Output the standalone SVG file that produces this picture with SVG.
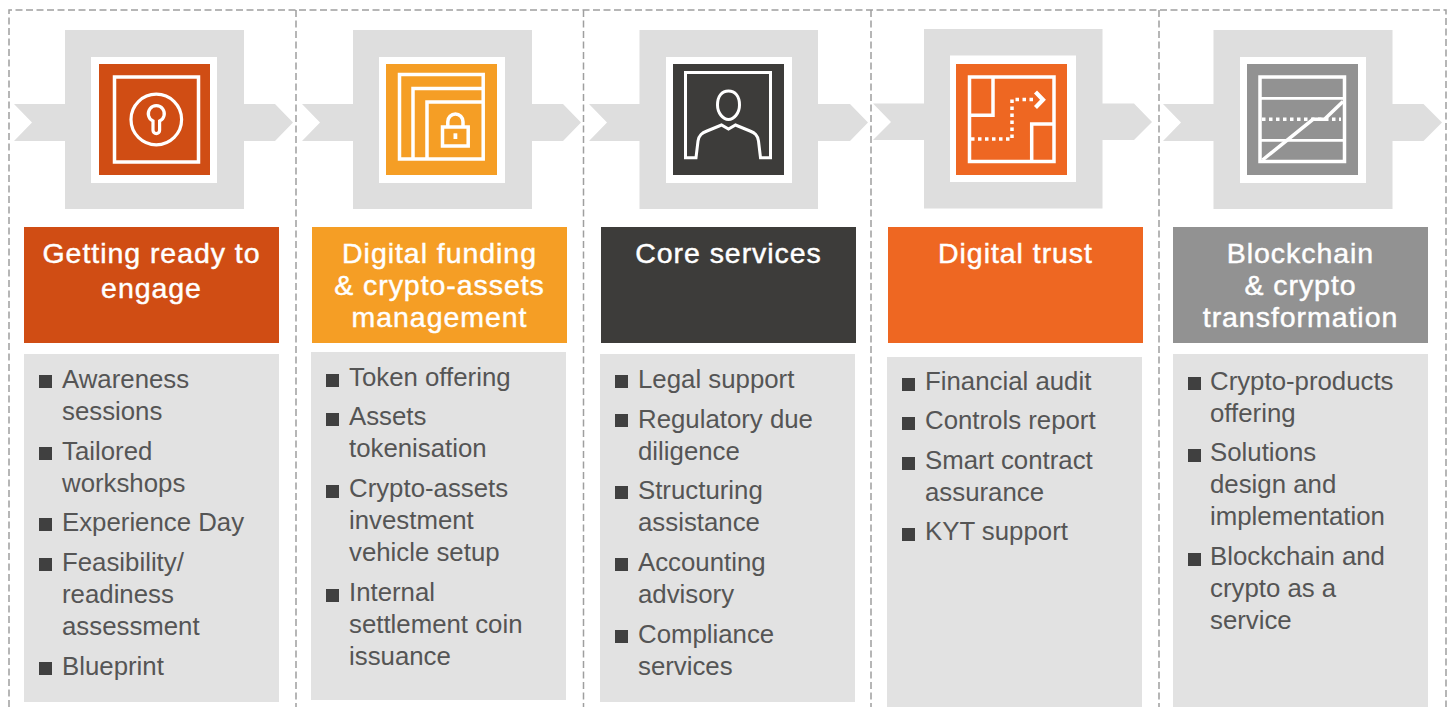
<svg xmlns="http://www.w3.org/2000/svg" width="1453" height="707" viewBox="0 0 1453 707">
<style>
.frame{fill:none;stroke:#9f9f9f;stroke-width:1.5;stroke-dasharray:7 3.500}
.cross{fill:#dedede}
.hole{fill:#fff}
.ic{fill:none;stroke:#fff;stroke-width:3.5}
.dot{fill:none;stroke:#fff;stroke-width:3.5;stroke-dasharray:3.5 3.5}
.head{font-family:"Liberation Sans",Arial,sans-serif;font-size:28.500px;letter-spacing:.95px;fill:#fff;stroke:#fff;stroke-width:.45px;text-anchor:middle}
.item{font-family:"Liberation Sans",Arial,sans-serif;font-size:25.800px;fill:#555}
.body{fill:#e2e2e2}
.bul{fill:#404040}
</style>
<rect width="1453" height="707" fill="#fff"/>
<g id="frames">
<path class="frame" d="M9 707V10H1446V707M296 10V707M583.500 10V707M871 10V707M1159 10V707"/>
</g>
<g id="connectors"/>
<g id="node-1">
<path class="cross" d="M65 30H244V104H275L293 122.500L275 141H244V209H65V141H14L32 122.500L14 104H65Z"/>
<rect class="hole" x="91" y="57" width="126" height="126"/>
<rect x="99" y="64" width="111" height="111" fill="#d04d14"/>
<rect class="ic" x="114.500" y="77" width="84" height="85"/>
<circle class="ic" cx="156.300" cy="119.500" r="25.300" style="stroke-width:3.2"/>
<path class="ic" style="stroke-width:3.2" d="M153 121A8 8 0 1 1 159.600 121V130.300A3.300 3.300 0 0 1 153 130.300Z"/>
<rect x="24" y="227" width="255" height="116" fill="#d04d14"/>
<text class="head"><tspan x="151.500" y="262.500">Getting ready to</tspan><tspan x="151.500" y="298">engage</tspan></text>
<rect class="body" x="24" y="354" width="255" height="348"/>
<rect class="bul" x="39" y="375" width="13" height="13"/>
<rect class="bul" x="39" y="447" width="13" height="13"/>
<rect class="bul" x="39" y="518" width="13" height="13"/>
<rect class="bul" x="39" y="558" width="13" height="13"/>
<rect class="bul" x="39" y="662" width="13" height="13"/>
<text class="item"><tspan x="62" y="388">Awareness</tspan><tspan x="62" y="420">sessions</tspan><tspan x="62" y="460">Tailored</tspan><tspan x="62" y="492">workshops</tspan><tspan x="62" y="531">Experience Day</tspan><tspan x="62" y="571">Feasibility/</tspan><tspan x="62" y="603">readiness</tspan><tspan x="62" y="635">assessment</tspan><tspan x="62" y="675">Blueprint</tspan></text>
</g>
<g id="node-2">
<path class="cross" d="M353 30H532V104H563L581 122.500L563 141H532V209H353V141H302L320 122.500L302 104H353Z"/>
<rect class="hole" x="379" y="57" width="126" height="126"/>
<rect x="386" y="64" width="111" height="111" fill="#f59e25"/>
<path class="ic" d="M399.500 74.500H483.200V159H399.500ZM483.200 88.500H413V159M483.200 102H427V159"/>
<path class="ic" d="M442.500 127H468.200V146H442.500ZM447.800 127V121.700A7.600 7.600 0 0 1 463 121.700V127"/>
<rect x="453.500" y="133.300" width="3.800" height="5.700" fill="#fff"/>
<rect x="312" y="227" width="255" height="116" fill="#f59e25"/>
<text class="head"><tspan x="439.500" y="262.500">Digital funding</tspan><tspan x="439.500" y="294.500">&amp; crypto-assets</tspan><tspan x="439.500" y="326.500">management</tspan></text>
<rect class="body" x="311" y="352" width="255" height="348"/>
<rect class="bul" x="326" y="374" width="13" height="13"/>
<rect class="bul" x="326" y="413" width="13" height="13"/>
<rect class="bul" x="326" y="485" width="13" height="13"/>
<rect class="bul" x="326" y="589" width="13" height="13"/>
<text class="item"><tspan x="349" y="386">Token offering</tspan><tspan x="349" y="425">Assets</tspan><tspan x="349" y="457">tokenisation</tspan><tspan x="349" y="497">Crypto-assets</tspan><tspan x="349" y="529">investment</tspan><tspan x="349" y="561">vehicle setup</tspan><tspan x="349" y="601">Internal</tspan><tspan x="349" y="633">settlement coin</tspan><tspan x="349" y="665">issuance</tspan></text>
</g>
<g id="node-3">
<path class="cross" d="M639.500 30H818V104H850L868 122.500L850 141H818V209H639.500V141H589L607 122.500L589 104H639.500Z"/>
<rect class="hole" x="666" y="57" width="126" height="126"/>
<rect x="673" y="64" width="111" height="111" fill="#3d3c3a"/>
<path class="ic" style="stroke-width:3" d="M696 157.800H685.500V72.500H770.500V157.800H760.500L758.500 141C757.500 135 755 133 750 131L735.500 125L728.500 129L721.500 125L707 131C702 133 699 135 698 141Z"/>
<path class="ic" style="stroke-width:3" d="M728.500 91C722 91 717.500 96 717.500 105C717.500 113 723 119.500 728.500 119.500C734 119.500 739.500 113 739.500 105C739.500 96 735 91 728.500 91Z"/>
<rect x="601" y="227" width="255" height="116" fill="#3d3c3a"/>
<text class="head"><tspan x="728.500" y="262.500">Core services</tspan></text>
<rect class="body" x="600" y="354" width="255" height="348"/>
<rect class="bul" x="615" y="375" width="13" height="13"/>
<rect class="bul" x="615" y="414" width="13" height="13"/>
<rect class="bul" x="615" y="486" width="13" height="13"/>
<rect class="bul" x="615" y="558" width="13" height="13"/>
<rect class="bul" x="615" y="630" width="13" height="13"/>
<text class="item"><tspan x="638" y="388">Legal support</tspan><tspan x="638" y="428">Regulatory due</tspan><tspan x="638" y="460">diligence</tspan><tspan x="638" y="499">Structuring</tspan><tspan x="638" y="531">assistance</tspan><tspan x="638" y="571">Accounting</tspan><tspan x="638" y="603">advisory</tspan><tspan x="638" y="643">Compliance</tspan><tspan x="638" y="675">services</tspan></text>
</g>
<g id="node-4">
<path class="cross" d="M924 29H1102.500V103.500H1134L1152 122L1134 140H1102.500V208.500H924V140H873L891 122L873 103.500H924Z"/>
<rect class="hole" x="950" y="55.500" width="126" height="126.500"/>
<rect x="956" y="64" width="111" height="111" fill="#ee6722"/>
<path class="ic" d="M969.500 77H1054V161.500H969.500ZM969.500 115.300H993V77M1054 124H1031.700V161.500"/>
<path class="dot" d="M971 139H1012V99.500H1034"/>
<path class="ic" style="stroke-width:4.200" d="M1035.500 92L1043 99.700L1035.500 107.500"/>
<rect x="888" y="227" width="255" height="116" fill="#ee6722"/>
<text class="head"><tspan x="1015.500" y="262.500">Digital trust</tspan></text>
<rect class="body" x="887" y="357" width="255" height="350"/>
<rect class="bul" x="902" y="378" width="13" height="13"/>
<rect class="bul" x="902" y="417" width="13" height="13"/>
<rect class="bul" x="902" y="457" width="13" height="13"/>
<rect class="bul" x="902" y="528" width="13" height="13"/>
<text class="item"><tspan x="925" y="390">Financial audit</tspan><tspan x="925" y="429">Controls report</tspan><tspan x="925" y="469">Smart contract</tspan><tspan x="925" y="501">assurance</tspan><tspan x="925" y="540">KYT support</tspan></text>
</g>
<g id="node-5">
<path class="cross" d="M1213.500 30H1392.500V104H1423.500L1442 122.500L1423.500 141H1392.500V209H1213.500V141H1163L1181 122.500L1163 104H1213.500Z"/>
<rect class="hole" x="1240" y="57" width="126" height="126"/>
<rect x="1247" y="64" width="111" height="111" fill="#929292"/>
<path class="ic" d="M1260 77H1344.500V161.500H1260Z"/>
<path class="ic" style="stroke-width:2.800" d="M1260 98.300H1344.500M1260 140.300H1344.500"/>
<path class="ic" d="M1262.500 160L1313 119.300H1324.500L1343 101.500"/>
<path class="dot" d="M1262 119.300H1341"/>
<rect x="1173" y="227" width="255" height="116" fill="#929292"/>
<text class="head"><tspan x="1300.500" y="262.500">Blockchain</tspan><tspan x="1300.500" y="294.500">&amp; crypto</tspan><tspan x="1300.500" y="326.500">transformation</tspan></text>
<rect class="body" x="1173" y="354" width="255" height="353"/>
<rect class="bul" x="1188" y="377" width="13" height="13"/>
<rect class="bul" x="1188" y="449" width="13" height="13"/>
<rect class="bul" x="1188" y="553" width="13" height="13"/>
<text class="item"><tspan x="1210" y="390">Crypto-products</tspan><tspan x="1210" y="422">offering</tspan><tspan x="1210" y="461">Solutions</tspan><tspan x="1210" y="493">design and</tspan><tspan x="1210" y="525">implementation</tspan><tspan x="1210" y="565">Blockchain and</tspan><tspan x="1210" y="597">crypto as a</tspan><tspan x="1210" y="629">service</tspan></text>
</g>
</svg>
